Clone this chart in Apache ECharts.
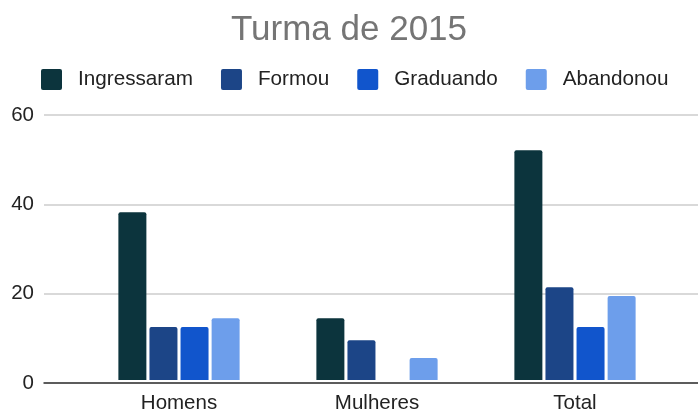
<!DOCTYPE html>
<html>
<head>
<meta charset="utf-8">
<script src="https://cdn.jsdelivr.net/npm/echarts@6/dist/echarts.min.js"></script>
<style>
  html, body { margin: 0; padding: 0; background: #fff; }
  #chart { width: 698px; height: 414px; }
</style>
</head>
<body>
<div id="chart"></div>
<script>
let categories = ['Homens', 'Mulheres', 'Total']
let seriesNames = ['Ingressaram', 'Formou', 'Graduando', 'Abandonou']
let ingressaram = [38, 14, 52]
let formou = [12, 9, 21]
let graduando = [12, 0, 12]
let abandonou = [14, 5, 19]
let yTicks = { min: 0, max: 60, interval: 20 }
let colors = ['#0c343d', '#1c4587', '#1155cc', '#6d9eeb']

let font = '"Liberation Sans", Arial, sans-serif'
let values = [ingressaram, formou, graduando, abandonou]

let myChart = echarts.init(document.getElementById('chart'))
myChart.setOption({
    animation: false,
    color: colors,
    title: {
        text: 'Turma de 2015',
        left: 'center',
        top: 8,
        textStyle: { fontFamily: font, fontSize: 35, fontWeight: 'normal', color: '#757575' }
    },
    legend: {
        data: seriesNames,
        left: 36,
        top: 64,
        itemWidth: 21,
        itemHeight: 21,
        itemGap: 28,
        icon: 'path://M2,0 L19,0 Q21,0 21,2 L21,19 Q21,21 19,21 L2,21 Q0,21 0,19 L0,2 Q0,0 2,0 Z',
        textStyle: { fontFamily: font, fontSize: 20.7, color: '#222', padding: [0, 0, 0, 11] }
    },
    grid: [
        { left: 44, right: 0, top: 115, bottom: 31 },
        { left: 80, right: 24, top: 115, bottom: 31 }
    ],
    xAxis: [
        {
            gridIndex: 0, type: 'value', min: 0, max: 1,
            axisLine: { show: true, lineStyle: { color: '#333', width: 1.5 } },
            axisTick: { show: false }, axisLabel: { show: false }, splitLine: { show: false }
        },
        {
            gridIndex: 1, type: 'category', data: categories,
            axisLine: { show: false }, axisTick: { show: false },
            axisLabel: { fontFamily: font, fontSize: 20.5, color: '#222', margin: 13 }
        }
    ],
    yAxis: [
        {
            gridIndex: 0, type: 'value', min: yTicks.min, max: yTicks.max, interval: yTicks.interval,
            axisLine: { show: false }, axisTick: { show: false },
            axisLabel: { fontFamily: font, fontSize: 20.5, color: '#222', margin: 10 },
            splitLine: { lineStyle: { color: '#cccccc', width: 1.5 } }
        },
        {
            gridIndex: 1, type: 'value', min: yTicks.min, max: yTicks.max, interval: yTicks.interval,
            show: false
        }
    ],
    series: seriesNames.map((name, i) => ({
        name: name,
        type: 'bar',
        xAxisIndex: 1,
        yAxisIndex: 1,
        data: values[i],
        barWidth: 28,
        barGap: '11%',
        itemStyle: { borderRadius: [2, 2, 0, 0] }
    }))
})
</script>
</body>
</html>
